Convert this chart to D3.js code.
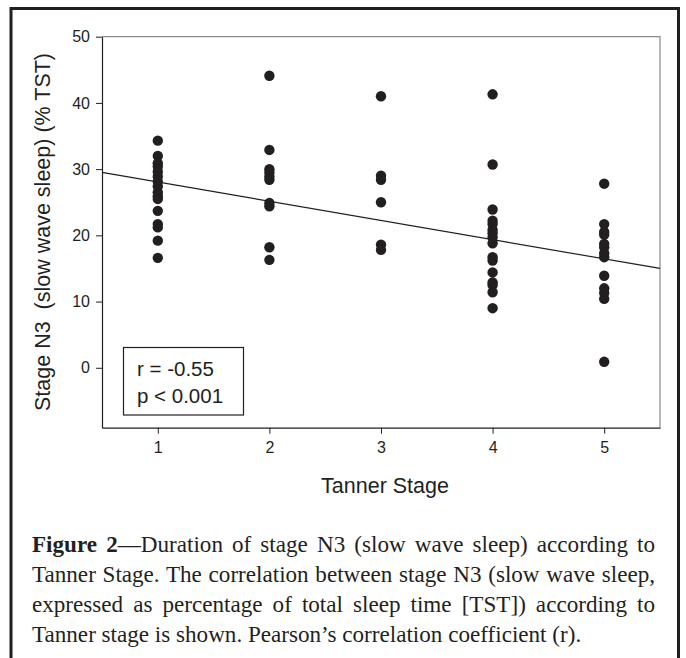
<!DOCTYPE html>
<html>
<head>
<meta charset="utf-8">
<script src="https://cdn.jsdelivr.net/npm/d3@7/dist/d3.min.js"></script>
<style>
  html, body { margin: 0; padding: 0; background: #fff; }
  svg { display: block; }
</style>
</head>
<body>
<svg id="chart" width="686" height="658"></svg>
<script>
// ---------- data ----------
const stage1 = [34.3, 32.0, 30.9, 30.4, 29.6, 28.9, 28.1, 27.4, 26.5, 25.9, 25.5, 23.7, 21.7, 21.2, 19.2, 16.6];
const stage2 = [44.1, 32.9, 30.0, 29.5, 28.9, 28.4, 24.9, 24.4, 18.2, 16.3];
const stage3 = [41.0, 29.0, 28.4, 25.0, 18.6, 17.8];
const stage4 = [41.3, 30.7, 23.9, 22.2, 21.7, 20.8, 20.3, 19.7, 18.8, 16.7, 16.2, 14.4, 12.9, 12.5, 11.4, 9.0];
const stage5 = [27.8, 21.7, 20.5, 20.1, 18.7, 18.2, 17.3, 16.7, 13.9, 12.0, 11.3, 10.4, 0.9];
const tannerStages = [1, 2, 3, 4, 5];
const yTicks = [0, 10, 20, 30, 40, 50];
const fitX = [0.5, 5.5];
const fitY = [29.5, 15.0];
const statLines = ["r = -0.55", "p < 0.001"];
const xTitle = "Tanner Stage";
const yTitle = "Stage N3  (slow wave sleep) (% TST)";
const captionBold = "Figure 2";
const captionLines = [
  "\u2014Duration of stage N3 (slow wave sleep) according to",
  "Tanner Stage. The correlation between stage N3 (slow wave sleep,",
  "expressed as percentage of total sleep time [TST]) according to",
  "Tanner stage is shown. Pearson\u2019s correlation coefficient (r)."
];

const seriesByStage = [stage1, stage2, stage3, stage4, stage5];
const points = [];
seriesByStage.forEach((vals, i) => vals.forEach(v => points.push({x: tannerStages[i], y: v})));

// ---------- layout ----------
const svg = d3.select("#chart");
const plot = {left: 102, right: 660, top: 36.7, bottom: 427.7};
const x = d3.scaleLinear().domain([0.5, 5.5]).range([plot.left, plot.right]);
const y = d3.scaleLinear().domain([-9.05, 50]).range([plot.bottom, plot.top]);

const sans = "'Liberation Sans', Arial, sans-serif";
const serif = "'Liberation Serif', 'Times New Roman', serif";
const ink = "#231f20";

// outer border
svg.append("rect")
  .attr("x", 11).attr("y", 8.5)
  .attr("width", 667.5).attr("height", 700)
  .attr("fill", "none").attr("stroke", ink).attr("stroke-width", 3);

// frame top/right (gray)
svg.append("path")
  .attr("d", `M${plot.left},${plot.top}H${plot.right}V${plot.bottom}`)
  .attr("fill", "none").attr("stroke", "#8a8a8a").attr("stroke-width", 1.2);

// axes
const xAxis = d3.axisBottom(x).tickValues(tannerStages).tickFormat(d3.format("d"))
  .tickSize(6).tickPadding(8).tickSizeOuter(0);
const yAxis = d3.axisLeft(y).tickValues(yTicks).tickFormat(d3.format("d"))
  .tickSize(6).tickPadding(6).tickSizeOuter(0);

const gx = svg.append("g").attr("transform", `translate(0,${plot.bottom})`).call(xAxis);
const gy = svg.append("g").attr("transform", `translate(${plot.left},0)`).call(yAxis);
[gx, gy].forEach(g => {
  g.select(".domain").attr("stroke", ink).attr("stroke-width", 1.2);
  g.selectAll(".tick line").attr("stroke", ink).attr("stroke-width", 1);
  g.selectAll(".tick text").attr("fill", ink).style("font-family", sans).style("font-size", "16px");
});

// regression line
svg.append("line")
  .attr("x1", x(fitX[0])).attr("y1", y(fitY[0]))
  .attr("x2", x(fitX[1])).attr("y2", y(fitY[1]))
  .attr("stroke", ink).attr("stroke-width", 1.2);

// points
svg.append("g").selectAll("circle").data(points).join("circle")
  .attr("cx", d => x(d.x)).attr("cy", d => y(d.y))
  .attr("r", 5.2).attr("fill", ink);

// stats box
svg.append("rect")
  .attr("x", 123.5).attr("y", 347.5).attr("width", 120).attr("height", 67.5)
  .attr("fill", "#fff").attr("stroke", ink).attr("stroke-width", 1.2);
svg.append("g").selectAll("text").data(statLines).join("text")
  .attr("x", 137).attr("y", (d, i) => 376 + i * 27)
  .attr("fill", ink).style("font-family", sans).style("font-size", "20.5px")
  .text(d => d);

// axis titles
svg.append("text")
  .attr("x", 385).attr("y", 493)
  .attr("text-anchor", "middle").attr("fill", ink)
  .style("font-family", sans).style("font-size", "21.5px")
  .text(xTitle);
svg.append("text")
  .attr("transform", `translate(50,${232}) rotate(-90)`)
  .attr("text-anchor", "middle").attr("fill", ink)
  .style("font-family", sans).style("font-size", "21.5px")
  .style("white-space", "pre")
  .text(yTitle);

// caption
const capLeft = 32, capRight = 655, capTop = 552, capGap = 30;
// size the caption font so the (near-unjustified) second line fills the column
const probe = svg.append("text").style("font-family", serif).style("font-size", "20px").text(captionLines[1]);
const capSize = 20 * (capRight - capLeft - 8) / probe.node().getComputedTextLength();
probe.remove();
captionLines.forEach((line, i) => {
  const t = svg.append("text")
    .attr("x", capLeft).attr("y", capTop + i * capGap)
    .attr("fill", ink).style("font-family", serif).style("font-size", capSize + "px");
  if (i === 0) t.append("tspan").attr("font-weight", "bold").text(captionBold);
  t.append("tspan").text(line);
  if (i < captionLines.length - 1) {
    const natural = t.node().getComputedTextLength();
    const full = (i === 0 ? captionBold : "") + line;
    const spaces = (full.match(/ /g) || []).length;
    if (spaces > 0) t.style("word-spacing", ((capRight - capLeft - natural) / spaces) + "px");
  }
});
</script>
</body>
</html>
